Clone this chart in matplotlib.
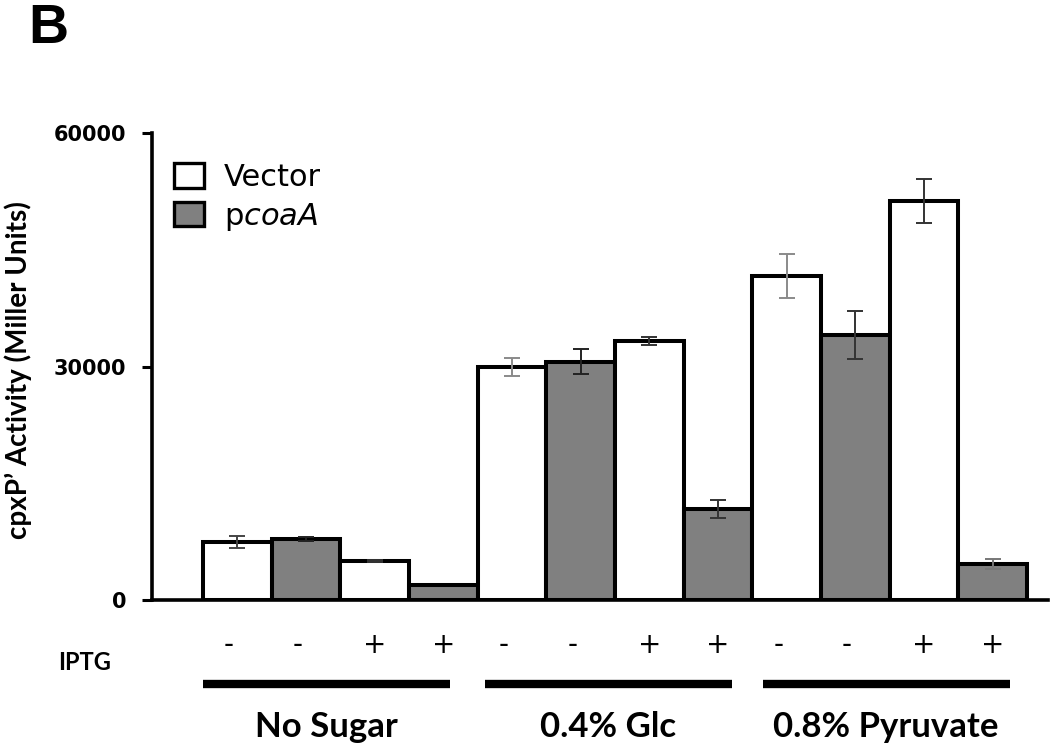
import matplotlib
matplotlib.use('Agg')
import matplotlib.pyplot as plt
import matplotlib.transforms as mtransforms
from matplotlib.patches import Patch
from matplotlib.lines import Line2D

# data (4 bars per condition)
groups = ['No Sugar', '0.4% Glc', '0.8% Pyruvate']
strains = ['Vector', 'pcoaA', 'Vector', 'pcoaA']
iptg = ['-', '-', '+', '+']

activity = [7500, 7850, 5000, 1950,
            29900, 30650, 33300, 11700,
            41650, 34100, 51300, 4650]
errors = [770, 300, 150, 0,
          1160, 1560, 540, 1220,
          2870, 3100, 2830, 640]

y_ticks = [0, 30000, 60000]

fill = {'Vector': 'white', 'pcoaA': '#808080'}
err_colors = ['#444444', '#222222', '#333333', '#333333',
              '#8a8a8a', '#222222', '#333333', '#333333',
              '#8a8a8a', '#333333', '#333333', '#777777']

plt.rcParams['mathtext.fontset'] = 'dejavusans'

fig = plt.figure(figsize=(10.5, 7.44), dpi=100)
ax = fig.add_axes([151.7 / 1050, 1 - 600 / 744, (1048 - 151.7) / 1050, (600 - 133.3) / 744])

n = len(activity)
xs = list(range(n))
colors = [fill[strains[i % 4]] for i in xs]

ax.bar(xs, activity, width=1.0, color=colors, edgecolor='black', linewidth=2.9, zorder=2)

for i in xs:
    if errors[i] > 0:
        ax.errorbar(i, activity[i], yerr=errors[i], fmt='none', ecolor=err_colors[i],
                    elinewidth=1.4, capsize=5.5, capthick=1.4, zorder=3)

ax.set_xlim(-1.247, 11.806)
ax.set_ylim(0, 60000)
ax.set_xticks([])
ax.set_yticks(y_ticks)
ax.set_yticklabels([str(v) for v in y_ticks], fontweight='bold', fontsize=15)
ax.tick_params(axis='y', direction='out', length=7.5, width=2.2, pad=11)

for s in ['top', 'right']:
    ax.spines[s].set_visible(False)
for s in ['left', 'bottom']:
    ax.spines[s].set_linewidth(2.6)

# legend
handles = [Patch(facecolor='white', edgecolor='black', linewidth=2.4),
           Patch(facecolor='#808080', edgecolor='black', linewidth=2.4)]
ax.legend(handles, ['Vector', r'p$\it{coaA}$'], loc='upper left',
          bbox_to_anchor=(174 / 1050, 1 - 163 / 744), bbox_transform=fig.transFigure,
          frameon=False, fontsize=22, handlelength=0.98, handleheight=0.85,
          handletextpad=0.65, labelspacing=0.28, borderpad=0, borderaxespad=0)

# y label and panel letter
fig.text(18 / 1050, 1 - 370 / 744, 'cpxP\u2019 Activity (Miller Units)', rotation=90,
         ha='center', va='center', fontsize=20, fontweight='bold', family='Lato')
fig.text(28 / 1050, 1 - 43 / 744, 'B', fontsize=40, fontweight='bold',
         family='Liberation Sans', ha='left', va='baseline')

# IPTG row, condition bars and labels under the axis
trans = mtransforms.blended_transform_factory(ax.transData, fig.transFigure)
fig.text(58 / 1050, 1 - 670 / 744, 'IPTG', fontsize=17, fontweight='bold',
         family='Lato', ha='left', va='baseline')
for i in xs:
    sign = iptg[i % 4]
    dx = -0.12 if sign == '-' else 0.0
    fig.text(i + dx, 1 - 645 / 744, sign, transform=trans, fontsize=20,
             ha='center', va='center')

nudge = [-0.2, -0.1, -0.05]
for g, name in enumerate(groups):
    mid = 4 * g + 1.5 + nudge[g]
    line = Line2D([mid - 1.8, mid + 1.8], [1 - 684 / 744] * 2, transform=trans,
                  color='black', linewidth=6, solid_capstyle='butt')
    fig.add_artist(line)
    fig.text(mid, 1 - 737 / 744, name, transform=trans, fontsize=25,
             fontweight='bold', family='Lato', ha='center', va='baseline')

fig.savefig('out.png', dpi=100)
